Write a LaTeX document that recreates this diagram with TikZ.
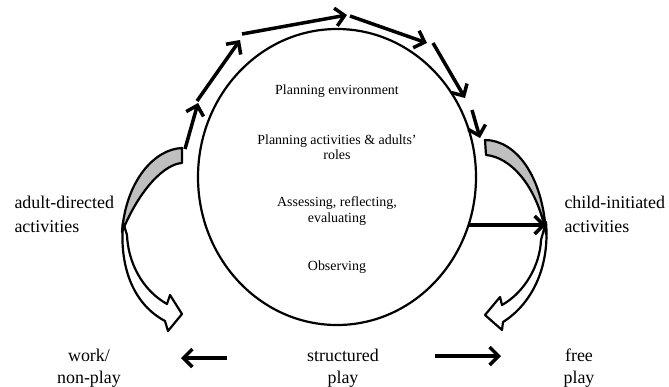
\documentclass[tikz,border=0pt]{standalone}
\usepackage{fontspec}
\setmainfont{Liberation Serif}
\usetikzlibrary{arrows.meta}

\begin{document}
\begin{tikzpicture}[x=1bp,y=-1bp,
  flow/.style={line width=3.5bp,-{Straight Barb[length=9bp,width=18bp]}},
  band/.style={line width=2.2bp,line join=round},
  inner/.style={font=\fontsize{14}{15.5}\selectfont,align=center},
  outer/.style={font=\fontsize{18}{24}\selectfont,align=left,anchor=west},
  lower/.style={font=\fontsize{18}{22}\selectfont,align=center}]
\useasboundingbox (0,0) rectangle (669,386);

% the planning cycle
\draw[line width=2.2bp] (337,177) ellipse [x radius=139bp, y radius=148bp];
\node[inner] (env) at (337,91) {Planning environment};
\node[inner] (roles) at (337,147) {Planning activities \& adults'\\roles};
\node[inner] (assess) at (337,211) {Assessing, reflecting,\\evaluating};
\node[inner] (obs) at (337,267) {Observing};

% the two kinds of activity
\node[outer] (adult) at (11,214) {adult-directed\\activities};
\node[outer] (child) at (561,214) {child-initiated\\activities};

% play continuum
\node[lower] (work) at (89,368) {work/\\non-play};
\node[lower] (struct) at (343,368) {structured\\play};
\node[lower] (free) at (579,368) {free\\play};

% arrows round the top
\coordinate (p0) at (185,149);
\coordinate (p1) at (198,103);
\coordinate (p2) at (240,40);
\coordinate (p3) at (347,15);
\coordinate (p4) at (427,43);
\coordinate (p5) at (465,98);
\coordinate (p6) at (480,138);
\draw[flow] (p0) -- (p1);
\draw[flow] (197,101) -- (p2);
\draw[flow] (242,34) -- (p3);
\draw[flow] (350,16) -- (p4);
\draw[flow] (433,43) -- (p5);
\draw[flow] (472,110) -- (p6);

\coordinate (c0) at (468,225);
\coordinate (c1) at (546,225);
\draw[flow] (c0) -- (c1);

\coordinate (l0) at (227,358);
\coordinate (l1) at (181,358);
\coordinate (r0) at (435,356);
\coordinate (r1) at (501,356);
\draw[flow] (l0) -- (l1);
\draw[flow] (r0) -- (r1);

% curved block arrows, left
\draw[band,fill=white] (123,222) .. controls (119,270) and (135,305) .. (165,321)
  -- (168,331) -- (182,314) -- (170,295) -- (167,304)
  .. controls (142,290) and (128,262) .. (127,235) -- cycle;
\draw[band,fill=black!25] (182,148) -- (182,163)
  .. controls (165,164) and (140,188) .. (122,232)
  .. controls (126,180) and (155,149) .. (182,148) -- cycle;

% curved block arrows, right
\draw[band,fill=white] (546,222) .. controls (550,270) and (530,305) .. (503,322)
  -- (502,330) -- (485,315) -- (500,297) -- (502,305)
  .. controls (525,292) and (540,265) .. (541,240) -- cycle;
\draw[band,fill=black!25] (485,140) -- (486,155)
  .. controls (510,157) and (537,185) .. (546,234)
  .. controls (543,175) and (515,140) .. (485,140) -- cycle;
\end{tikzpicture}
\end{document}
